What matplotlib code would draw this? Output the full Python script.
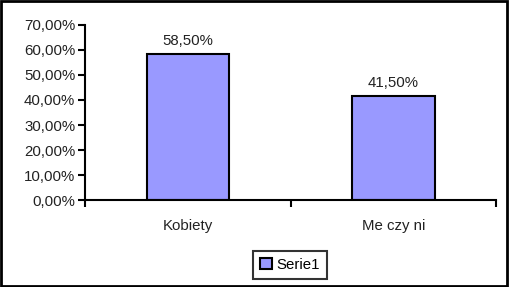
import matplotlib
matplotlib.use("Agg")
from matplotlib import pyplot as plt
from matplotlib.patches import Rectangle

# data
categories = ["Kobiety", "Me czy ni"]
values = [58.5, 41.5]
value_labels = ["58,50%", "41,50%"]
yticks = [0, 10, 20, 30, 40, 50, 60, 70]
ytick_labels = ["0,00%", "10,00%", "20,00%", "30,00%", "40,00%", "50,00%", "60,00%", "70,00%"]

plt.rcParams['font.family'] = ['Liberation Sans', 'DejaVu Sans']
plt.rcParams['font.size'] = 10.8

fig = plt.figure(figsize=(5.09, 2.87), dpi=100)
ax = fig.add_axes([0.167, 0.303, 0.808, 0.61])

bars = ax.bar(range(len(categories)), values, width=0.4, color='#9999ff',
              edgecolor='black', linewidth=1.5, label='Serie1')
for b, lab in zip(bars, value_labels):
    ax.text(b.get_x() + b.get_width() / 2, b.get_height() + 2.3, lab,
            ha='center', va='bottom', color='#222222')

ax.set_xlim(-0.5, 1.5)
ax.set_ylim(0, 70)
ax.set_yticks(yticks)
ax.set_yticklabels(ytick_labels, color='#222222')
ax.set_xticks(range(len(categories)))
ax.set_xticklabels(categories, color='#222222')
ax.set_xticks([-0.5, 0.5, 1.5], minor=True)
ax.tick_params(axis='x', which='major', length=0, pad=14)
ax.tick_params(axis='x', which='minor', length=5, width=1.5, direction='out')
ax.tick_params(axis='y', length=5, width=1.5, direction='out', pad=2)

for s in ['top', 'right']:
    ax.spines[s].set_visible(False)
for s in ['left', 'bottom']:
    ax.spines[s].set_linewidth(1.5)

leg = fig.legend(loc='center', bbox_to_anchor=(0.57, 0.077), frameon=True,
                 fancybox=False, edgecolor='black', handlelength=0.8,
                 handleheight=0.8, handletextpad=0.3, borderpad=0.45)
leg.get_frame().set_linewidth(1.5)

fig.patches.append(Rectangle((0.002, 0.003), 0.995, 0.993, transform=fig.transFigure,
                             fill=False, edgecolor='black', linewidth=2))

fig.savefig("out.png", dpi=100)
